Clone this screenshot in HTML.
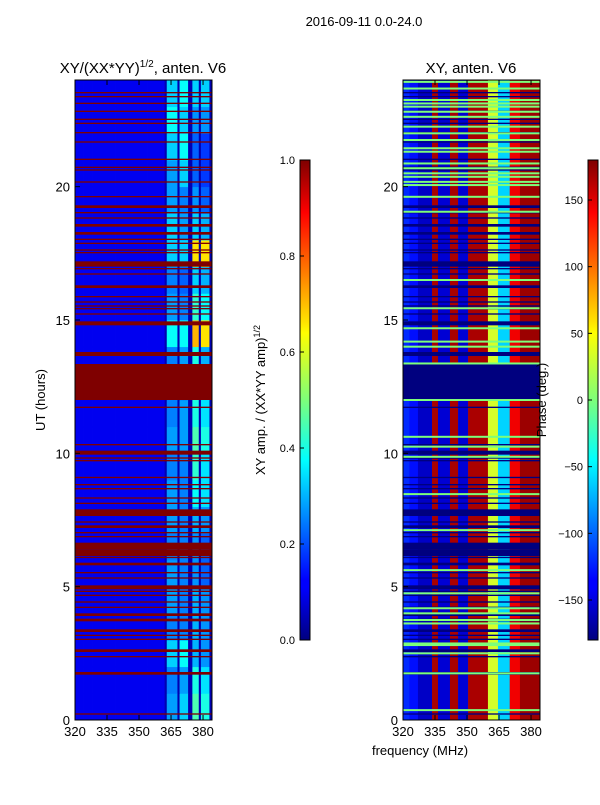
<!DOCTYPE html>
<html><head><meta charset="utf-8">
<style>
body{margin:0;background:#fff;width:600px;height:800px;overflow:hidden}
svg{font-family:"Liberation Sans",sans-serif}
</style></head>
<body>
<svg id="c" width="600" height="800" xmlns="http://www.w3.org/2000/svg">
<defs>
<linearGradient id="jet" x1="0" y1="1" x2="0" y2="0">
<stop offset="0" stop-color="#00007f"/><stop offset="0.11" stop-color="#0000ff"/><stop offset="0.125" stop-color="#0000ff"/>
<stop offset="0.34" stop-color="#00dcff"/><stop offset="0.375" stop-color="#0ff"/><stop offset="0.5" stop-color="#7dff7a"/>
<stop offset="0.64" stop-color="#ff0"/><stop offset="0.66" stop-color="#ffe600"/><stop offset="0.89" stop-color="#ff0000"/><stop offset="1" stop-color="#7f0000"/>
</linearGradient>
</defs>
<text x="364" y="26" font-size="13" text-anchor="middle">2016-09-11 0.0-24.0</text>
<g id="left"></g>
<g id="right"></g>
<text x="143" y="73" font-size="15" text-anchor="middle">XY/(XX*YY)<tspan font-size="10" dy="-6">1/2</tspan><tspan dy="6">, anten. V6</tspan></text>
<text x="471" y="73" font-size="15" text-anchor="middle">XY, anten. V6</text>
<text transform="translate(45,400) rotate(-90)" font-size="13" text-anchor="middle">UT (hours)</text>
<text transform="translate(265,400) rotate(-90)" font-size="13" text-anchor="middle">XY amp. / (XX*YY amp)<tspan font-size="9" dy="-5">1/2</tspan></text>
<text transform="translate(546,400) rotate(-90)" font-size="13" text-anchor="middle">Phase (deg.)</text>
<text x="420" y="755" font-size="13" text-anchor="middle">frequency (MHz)</text>
<rect x="300" y="160" width="10" height="480" fill="url(#jet)" stroke="#000" stroke-width="1"/>
<rect x="588" y="160" width="10" height="480" fill="url(#jet)" stroke="#000" stroke-width="1"/>
<g id="cb" font-size="11"></g>
</svg>
<script>
const hoursTicks=[0,5,10,15,20];
const freqTicks=[320,335,350,365,380];
const ampTicks=[0.0,0.2,0.4,0.6,0.8,1.0];
const phaseTicks=[-150,-100,-50,0,50,100,150];
// amplitude band intensities per hour (bands 363-368, 369-373, 375-378, 379-383 MHz)
const band1=[0.28,0.25,0.33,0.25,0.28,0.28,0.25,0.28,0.28,0.25,0.28,0.25,0.25,0.25,0.38,0.28,0.25,0.33,0.33,0.28,0.28,0.33,0.38,0.33];
const band2=[0.33,0.28,0.38,0.25,0.25,0.25,0.25,0.25,0.25,0.25,0.28,0.28,0.25,0.28,0.38,0.25,0.22,0.33,0.28,0.25,0.33,0.38,0.33,0.38];
const band3=[0.45,0.4,0.3,0.3,0.3,0.27,0.27,0.3,0.38,0.42,0.45,0.4,0.42,0.4,0.7,0.42,0.33,0.65,0.33,0.27,0.22,0.22,0.27,0.33];
const band4=[0.4,0.35,0.27,0.27,0.27,0.22,0.22,0.27,0.35,0.35,0.4,0.35,0.35,0.3,0.65,0.38,0.3,0.65,0.3,0.22,0.18,0.18,0.27,0.33];
const baseAmp=0.11;
// phase profile per frequency segment
const phaseSegStart=[320,323,327,333.6,336.4,342,345.8,350.5,359.8,364.5,370,374.8];
const phaseSegEnd=[323,327,333.6,336.4,342,345.8,350.5,359.8,364.5,370,374.8,384.2];
const phaseSegVal=[-120,-130,-155,165,-150,165,-150,165,30,-60,140,170];
// flagged intervals (hours)
const flagStart=[0.2,1.7,2.35,2.55,3.0,3.15,3.3,3.7,3.9,4.2,4.4,4.65,4.8,4.9,5.3,5.5,5.8,6.07,6.15,6.4,6.85,7.0,7.2,7.4,7.65,8.1,8.3,8.65,8.8,9.07,9.7,9.8,9.95,10.3,11.7,12.0,13.65,14.8,15.2,15.4,15.5,15.65,15.85,16.2,16.7,16.9,17.0,17.5,17.6,17.85,18.0,18.2,18.5,18.8,19.0,19.2,19.6,20.15,20.6,20.7,21.0,21.65,22.0,22.35,22.5,22.8,23.1,23.35,23.5];
const flagEnd=[0.25,1.8,2.4,2.65,3.05,3.2,3.4,3.8,4.0,4.25,4.45,4.7,4.85,5.05,5.35,5.55,5.9,6.12,6.4,6.65,6.9,7.05,7.3,7.45,7.9,8.15,8.35,8.7,8.85,9.12,9.75,9.85,10.1,10.35,11.75,13.35,13.8,14.95,15.25,15.45,15.55,15.7,15.9,16.3,16.75,16.95,17.2,17.55,17.65,17.9,18.05,18.3,18.6,18.85,19.05,19.3,19.65,20.2,20.65,20.75,21.05,21.7,22.05,22.4,22.55,22.85,23.15,23.4,23.55];
// green (phase ~0) lines (hours)
const greenLines=[0.37,1.75,2.5,2.81,2.87,3.62,3.75,4.0,4.19,4.75,5.62,7.12,8.47,9.87,10.25,10.62,12.0,13.37,14.0,14.19,14.69,15.44,16.5,19.06,19.62,20.06,20.18,20.37,20.5,20.69,20.87,21.31,21.44,21.75,22.0,22.25,22.62,22.81,23.0,23.12,23.25,23.68,23.93];

const NS="http://www.w3.org/2000/svg";
function jet(v){v=Math.max(0,Math.min(1,v));
 const f=(x)=>Math.max(0,Math.min(1,1.5-Math.abs(4*v-x)));
 return `rgb(${Math.round(f(3)*255)},${Math.round(f(2)*255)},${Math.round(f(1)*255)})`;}
function mk(tag,attrs,parent){const e=document.createElementNS(NS,tag);for(const k in attrs)e.setAttribute(k,attrs[k]);parent.appendChild(e);return e;}
const Y=h=>720-h*(640/24);
const panels=[{g:document.getElementById('left'),x0:75},{g:document.getElementById('right'),x0:403}];
const X=(x0,f)=>x0+(f-320)*(137/64.2);
function ampAt(f,hr){
 if(f>=363&&f<368)return band1[hr];
 if(f>=369&&f<373)return band2[hr];
 if(f>=375&&f<378.5)return band3[hr];
 if(f>=379&&f<383)return band4[hr];
 if(f>=362)return 0.05;
 return baseAmp;}
{const p=panels[0];
 for(let hr=0;hr<24;hr++){
  for(let f=320;f<384;f++){
   const r=mk('rect',{x:X(p.x0,f),y:Y(hr+1),width:137/64.2+0.4,height:640/24+0.4,fill:jet(ampAt(f+0.5,hr))},p.g);
   
   
  }}
 for(let i=0;i<flagStart.length;i++){
  const r=mk('rect',{x:p.x0,y:Y(flagEnd[i]),width:137,height:Math.max(1,Y(flagStart[i])-Y(flagEnd[i])),fill:'#7f0000'},p.g);
  
  
 }}
{const p=panels[1];
 for(let i=0;i<phaseSegStart.length;i++){
  const r=mk('rect',{x:X(p.x0,phaseSegStart[i]),y:80,width:X(p.x0,phaseSegEnd[i])-X(p.x0,phaseSegStart[i])+0.3,height:640,fill:jet((phaseSegVal[i]+180)/360)},p.g);
  
  
 }
 for(let i=0;i<flagStart.length;i++){
  const r=mk('rect',{x:p.x0,y:Y(flagEnd[i]),width:137,height:Math.max(1,Y(flagStart[i])-Y(flagEnd[i])),fill:'#00007f'},p.g);
  
  
 }
 for(const h of greenLines){
  const r=mk('rect',{x:p.x0,y:Y(h)-1,width:137,height:2,fill:'#7dff7a'},p.g);
  
  
 }}
for(const p of panels){
 const fr=mk('rect',{x:p.x0,y:80,width:137,height:640,fill:'none',stroke:'#000','stroke-width':1},p.g);
 
 
 for(const h of hoursTicks){
  mk('line',{x1:p.x0,x2:p.x0+5,y1:Y(h),y2:Y(h),stroke:'#000'},p.g);
  const t=mk('text',{x:p.x0-5,y:Y(h)+5,'font-size':13,'text-anchor':'end'},p.g);t.textContent=h;
  
  
 }
 for(const f of freqTicks){
  mk('line',{x1:X(p.x0,f),x2:X(p.x0,f),y1:720,y2:715,stroke:'#000'},p.g);
  mk('line',{x1:X(p.x0,f),x2:X(p.x0,f),y1:80,y2:85,stroke:'#000'},p.g);
  const t=mk('text',{x:X(p.x0,f),y:736,'font-size':13,'text-anchor':'middle'},p.g);t.textContent=f;
  
  
 }}
const cb=document.getElementById('cb');
for(const v of ampTicks){const y=640-v*480;
 mk('line',{x1:300,x2:304,y1:y,y2:y,stroke:'#000'},cb);
 const t=mk('text',{x:295,y:y+4,'text-anchor':'end'},cb);t.textContent=v.toFixed(1);
 
 }
for(const v of phaseTicks){const y=400-v*480/360;
 mk('line',{x1:588,x2:592,y1:y,y2:y,stroke:'#000'},cb);
 const t=mk('text',{x:583,y:y+4,'text-anchor':'end'},cb);t.textContent=v===0?'0':(v<0?'\u2212'+(-v):v);
 
 }
</script>
</body></html>
